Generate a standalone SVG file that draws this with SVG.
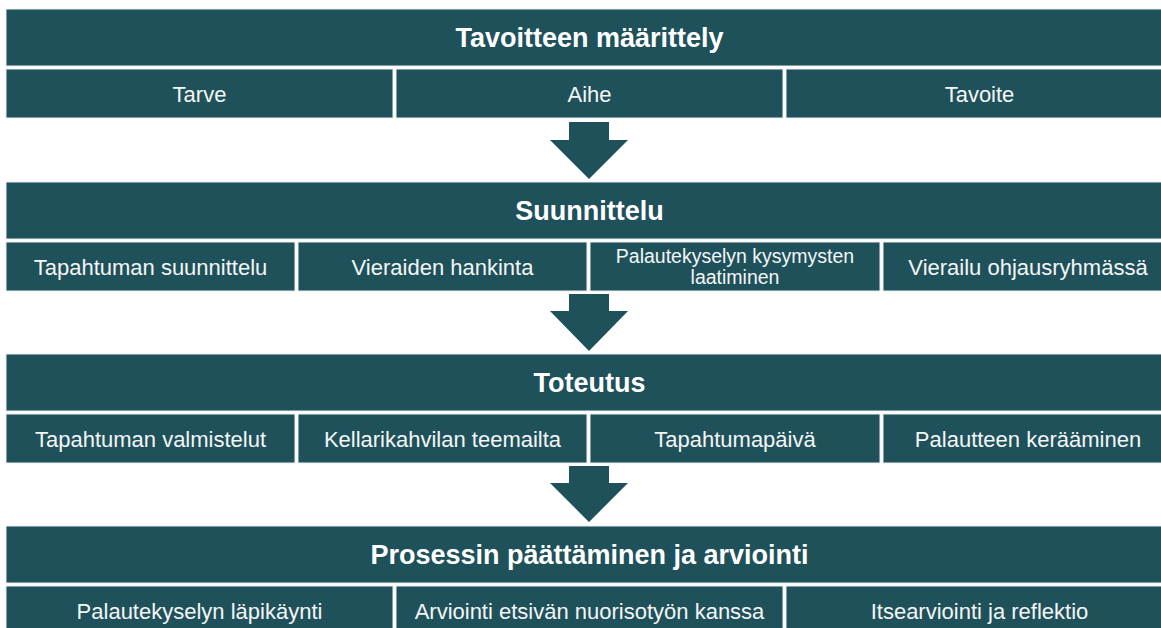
<svg xmlns="http://www.w3.org/2000/svg" width="1161" height="628" viewBox="0 0 1161 628">
<style>
.box{fill:#1f515b;stroke:#e9eeef;stroke-width:1}
.h{font-family:"Liberation Sans",Arial,sans-serif;font-weight:bold;font-size:27px;fill:#ffffff;text-anchor:middle}
.s{font-family:"Liberation Sans",Arial,sans-serif;font-size:22px;fill:#f4f6f6;text-anchor:middle}
.s2{font-family:"Liberation Sans",Arial,sans-serif;font-size:19.5px;fill:#f4f6f6;text-anchor:middle}
.arr{fill:#1f515b}
</style>
<rect width="1161" height="628" fill="#ffffff"/>
<g id="row1">
<g id="tavoitteen-maarittely"><rect class="box" x="6" y="9" width="1167" height="57"/><text class="h" x="589.5" y="47">Tavoitteen määrittely</text></g>
<g id="tarve"><rect class="box" x="6" y="69" width="387" height="49"/><text class="s" x="199.5" y="101.5">Tarve</text></g>
<g id="aihe"><rect class="box" x="396" y="69" width="387" height="49"/><text class="s" x="589.5" y="101.5">Aihe</text></g>
<g id="tavoite"><rect class="box" x="786" y="69" width="387" height="49"/><text class="s" x="979.5" y="101.5">Tavoite</text></g>
</g>
<g id="row2">
<g id="suunnittelu"><rect class="box" x="6" y="182" width="1167" height="57"/><text class="h" x="589.5" y="220">Suunnittelu</text></g>
<g id="tapahtuman-suunnittelu"><rect class="box" x="6" y="242" width="289" height="49"/><text class="s" x="150.5" y="274.5">Tapahtuman suunnittelu</text></g>
<g id="vieraiden-hankinta"><rect class="box" x="298" y="242" width="289" height="49"/><text class="s" x="442.5" y="274.5">Vieraiden hankinta</text></g>
<g id="palautekyselyn-kysymysten"><rect class="box" x="590" y="242" width="290" height="49"/><text class="s2" x="735" y="263">Palautekyselyn kysymysten</text><text class="s2" x="735" y="284">laatiminen</text></g>
<g id="vierailu"><rect class="box" x="883" y="242" width="290" height="49"/><text class="s" x="1028" y="274.5">Vierailu ohjausryhmässä</text></g>
</g>
<g id="row3">
<g id="toteutus"><rect class="box" x="6" y="354" width="1167" height="57"/><text class="h" x="589.5" y="392">Toteutus</text></g>
<g id="tapahtuman-valmistelut"><rect class="box" x="6" y="414" width="289" height="49"/><text class="s" x="150.5" y="446.5">Tapahtuman valmistelut</text></g>
<g id="kellarikahvilan-teemailta"><rect class="box" x="298" y="414" width="289" height="49"/><text class="s" x="442.5" y="446.5">Kellarikahvilan teemailta</text></g>
<g id="tapahtumapaiva"><rect class="box" x="590" y="414" width="290" height="49"/><text class="s" x="735" y="446.5">Tapahtumapäivä</text></g>
<g id="palautteen-keraaminen"><rect class="box" x="883" y="414" width="290" height="49"/><text class="s" x="1028" y="446.5">Palautteen kerääminen</text></g>
</g>
<g id="row4">
<g id="prosessin-paattaminen"><rect class="box" x="6" y="526" width="1167" height="57"/><text class="h" x="589.5" y="564">Prosessin päättäminen ja arviointi</text></g>
<g id="palautekyselyn-lapikaynti"><rect class="box" x="6" y="586" width="387" height="49"/><text class="s" x="199.5" y="618.5">Palautekyselyn läpikäynti</text></g>
<g id="arviointi"><rect class="box" x="396" y="586" width="387" height="49"/><text class="s" x="589.5" y="618.5">Arviointi etsivän nuorisotyön kanssa</text></g>
<g id="itsearviointi"><rect class="box" x="786" y="586" width="387" height="49"/><text class="s" x="979.5" y="618.5">Itsearviointi ja reflektio</text></g>
</g>
<g id="connectors">
<polygon class="arr" points="569,122 609,122 609,140 628,140 589,179 550,140 569,140"/>
<polygon class="arr" points="569,294 609,294 609,311 628,311 589,351 550,311 569,311"/>
<polygon class="arr" points="569,466 609,466 609,483 628,483 589,522 550,483 569,483"/>
</g>
</svg>
